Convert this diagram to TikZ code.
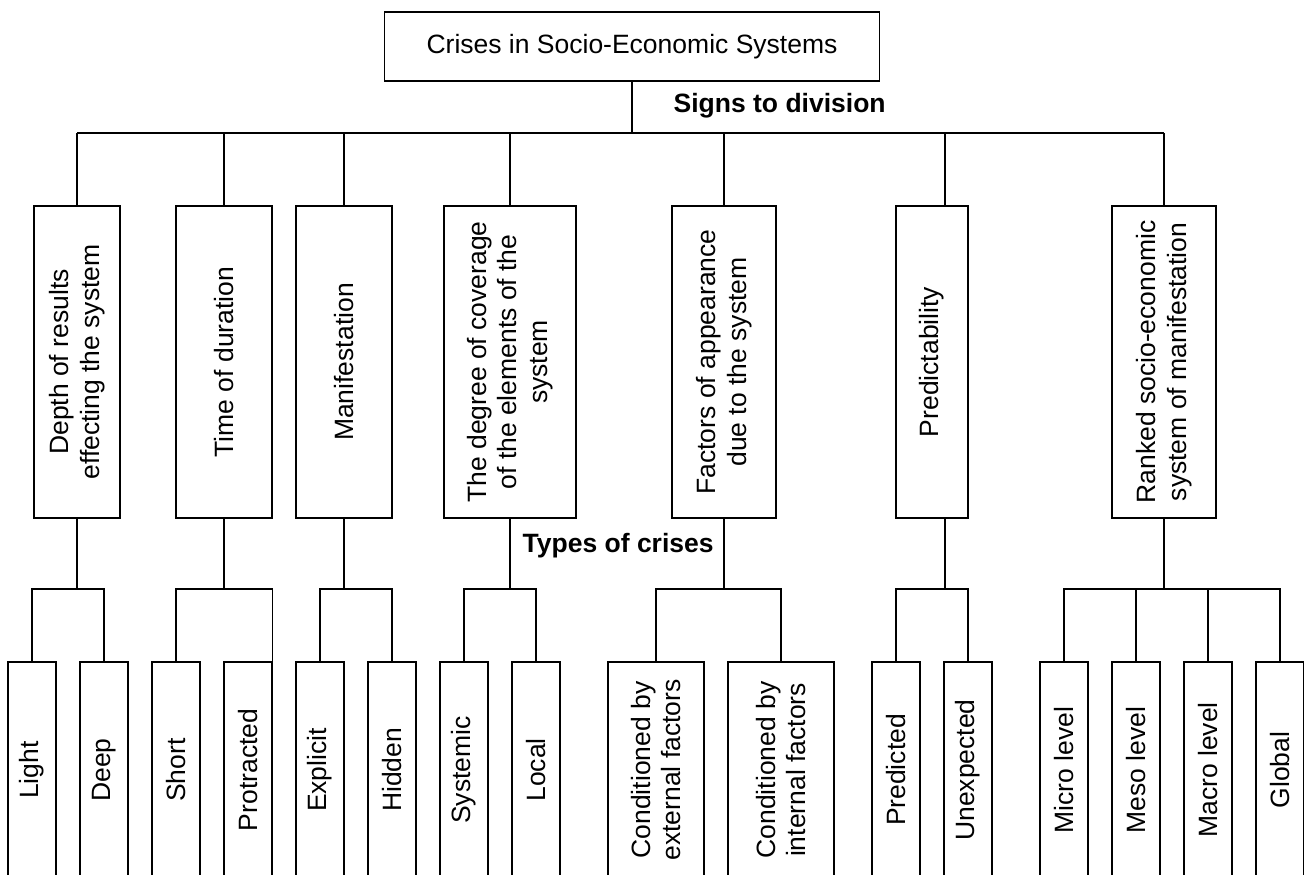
\documentclass[tikz,border=0pt]{standalone}
\usepackage{fontspec}
\setmainfont{Liberation Sans}

\begin{document}
\begin{tikzpicture}[x=1pt, y=-1pt, line width=1.3pt,
        block/.style={draw, rectangle, inner sep=0pt, font=\fontsize{26.5}{30.5}\selectfont}]
            \tikzset{sign/.style = {block, rotate=90, align=center, minimum width=312pt, minimum height=#1}}
            \tikzset{kind/.style = {block, rotate=90, align=center, minimum width=216pt, minimum height=#1}}
            \tikzset{headline/.style = {inner sep=0pt, anchor=base west, font=\fontsize{26.5}{30.5}\selectfont\bfseries}}

            \useasboundingbox (0,0) rectangle (1304,875);

            \node[block, minimum width=495pt, minimum height=69pt] (root) at (632,46.5) {Crises in Socio-Economic Systems};
            \node[headline] (signs) at (673,112) {Signs to division};

            \node[sign=86pt] (depth) at (77,362) {Depth of results\\effecting the system};
            \node[sign=96pt] (duration) at (224,362) {Time of duration};
            \node[sign=96pt] (manifest) at (344,362) {Manifestation};
            \node[sign=132pt] (degree) at (510,362) {The degree of coverage\\of the elements of the\\system};
            \node[sign=104pt] (factors) at (724,362) {Factors of appearance\\due to the system};
            \node[sign=72pt] (predict) at (932,362) {Predictability};
            \node[sign=104pt] (ranked) at (1164,362) {Ranked socio-economic\\system of manifestation};

            \node[headline] (types) at (522,552) {Types of crises};

            \node[kind=48pt] (light) at (32,770) {Light};
            \node[kind=48pt] (deep) at (104,770) {Deep};
            \node[kind=48pt] (short) at (176,770) {Short};
            \node[kind=48pt] (protracted) at (248,770) {Protracted};
            \node[kind=48pt] (explicit) at (320,770) {Explicit};
            \node[kind=48pt] (hidden) at (392,770) {Hidden};
            \node[kind=48pt] (systemic) at (464,770) {Systemic};
            \node[kind=48pt] (local) at (536,770) {Local};
            \node[kind=96pt] (external) at (656,770) {Conditioned by\\external factors};
            \node[kind=106pt] (internal) at (781,770) {Conditioned by\\internal factors};
            \node[kind=48pt] (predicted) at (896,770) {Predicted};
            \node[kind=48pt] (unexpected) at (968,770) {Unexpected};
            \node[kind=48pt] (micro) at (1064,770) {Micro level};
            \node[kind=48pt] (meso) at (1136,770) {Meso level};
            \node[kind=48pt] (macro) at (1208,770) {Macro level};
            \node[kind=48pt] (global) at (1280,770) {Global};

            \coordinate (bus) at (0,133);
            \coordinate (sub) at (0,589);
            \coordinate (predtop) at ([xshift=13pt]predict.east);
            \coordinate (predbot) at ([xshift=13pt]predict.west);

            % signs to division
            \draw (root) -- (root |- bus);
            \draw (depth.east |- bus) -- (ranked.east |- bus);
            \draw (depth.east) -- (depth.east |- bus);
            \draw (duration.east) -- (duration.east |- bus);
            \draw (manifest.east) -- (manifest.east |- bus);
            \draw (degree.east) -- (degree.east |- bus);
            \draw (factors.east) -- (factors.east |- bus);
            \draw (predtop) -- (predtop |- bus);
            \draw (ranked.east) -- (ranked.east |- bus);

            % types of crises
            \draw (depth.west) -- (depth.west |- sub);
            \draw (light.east) |- (sub -| deep.east) -- (deep.east);
            \draw (duration.west) -- (duration.west |- sub);
            \draw (short.east) |- (sub -| protracted.south east) -- (protracted.south east);
            \draw (manifest.west) -- (manifest.west |- sub);
            \draw (explicit.east) |- (sub -| hidden.east) -- (hidden.east);
            \draw (degree.west) -- (degree.west |- sub);
            \draw (systemic.east) |- (sub -| local.east) -- (local.east);
            \draw (factors.west) -- (factors.west |- sub);
            \draw (external.east) |- (sub -| internal.east) -- (internal.east);
            \draw (predbot) -- (predbot |- sub);
            \draw (predicted.east) |- (sub -| unexpected.east) -- (unexpected.east);
            \draw (ranked.west) -- (ranked.west |- sub);
            \draw (micro.east) |- (sub -| global.east) -- (global.east);
            \draw (meso.east) -- (meso.east |- sub);
            \draw (macro.east) -- (macro.east |- sub);

\end{tikzpicture}
\end{document}
